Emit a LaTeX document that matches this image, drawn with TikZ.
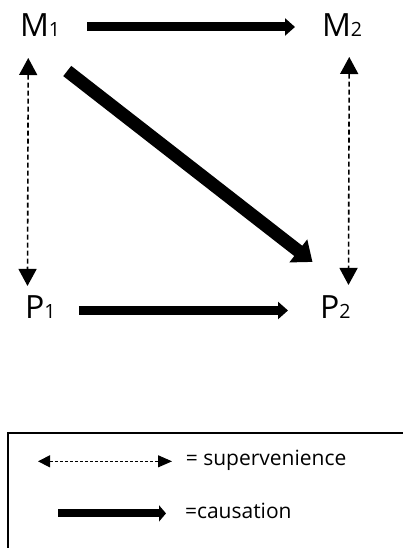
\documentclass[tikz,border=0pt]{standalone}
\usepackage{fontspec}
\setmainfont{Open Sans}
\usetikzlibrary{arrows.meta}
\begin{document}
\begin{tikzpicture}[x=1pt,y=-1pt,
  lbl/.style={inner sep=0pt,outer sep=0pt,anchor=base west,font=\fontsize{32}{36}\selectfont},
  leg/.style={inner sep=0pt,outer sep=0pt,anchor=base west,font=\fontsize{21}{24}\selectfont},
  causal/.style={line width=9pt,-{Triangle[width=17pt,length=10pt]}},
  bigcausal/.style={line width=13pt,-{Triangle[width=28pt,length=18pt]}},
  superv/.style={line width=1.6pt,dash pattern=on 5pt off 3pt,{Triangle[width=18pt,length=17pt]}-{Triangle[width=18pt,length=17pt]}},
  legsuperv/.style={line width=1pt,dash pattern=on 3pt off 2pt,{Triangle[width=12pt,length=12pt]}-{Triangle[width=12pt,length=14pt]}},
  legcausal/.style={line width=8pt,-{Triangle[width=16pt,length=7pt]}}]
\useasboundingbox (0,0) rectangle (403,548);
\fill[white] (0,0) rectangle (403,548);
\node[lbl] (M1) at (20,37) {M{\fontsize{19.6}{22}\selectfont 1}};
\node[lbl] (M2) at (322,37) {M{\fontsize{19.6}{22}\selectfont 2}};
\node[lbl] (P1) at (25,318) {P{\fontsize{19.6}{22}\selectfont 1}};
\node[lbl] (P2) at (320,318) {P{\fontsize{19.6}{22}\selectfont 2}};
\draw[causal] ([shift={(27.4pt,-1.4pt)}]M1.east) -- ([shift={(-27pt,-1.4pt)}]M2.west);
\draw[causal] ([shift={(23.5pt,-3.9pt)}]P1.east) -- ([shift={(-32pt,-3.9pt)}]P2.west);
\draw[bigcausal] ([shift={(27.2pt,-34pt)}]M1.south) -- ([shift={(-22.75pt,33.2pt)}]P2.north);
\draw[superv] ([shift={(-11.8pt,-21pt)}]M1.south) -- ([shift={(-12.75pt,9.2pt)}]P1.north);
\draw[superv] ([shift={(7.2pt,-20pt)}]M2.south) -- ([shift={(13.25pt,10.2pt)}]P2.north);
\begin{scope}
\clip (0,0) rectangle (403,548);
\draw[line width=1.5pt] (8,433) rectangle (420,570);
\end{scope}
\node[leg] (legS) at (185.8,465) {= supervenience};
\node[leg] (legC) at (185,518) {=causation};
\draw[legsuperv] ([shift={(-147.8pt,-1.5pt)}]legS.west) -- ([shift={(-13.8pt,-1.5pt)}]legS.west);
\draw[legcausal] ([shift={(-127pt,-3pt)}]legC.west) -- ([shift={(-19pt,-3pt)}]legC.west);
\end{tikzpicture}
\end{document}
